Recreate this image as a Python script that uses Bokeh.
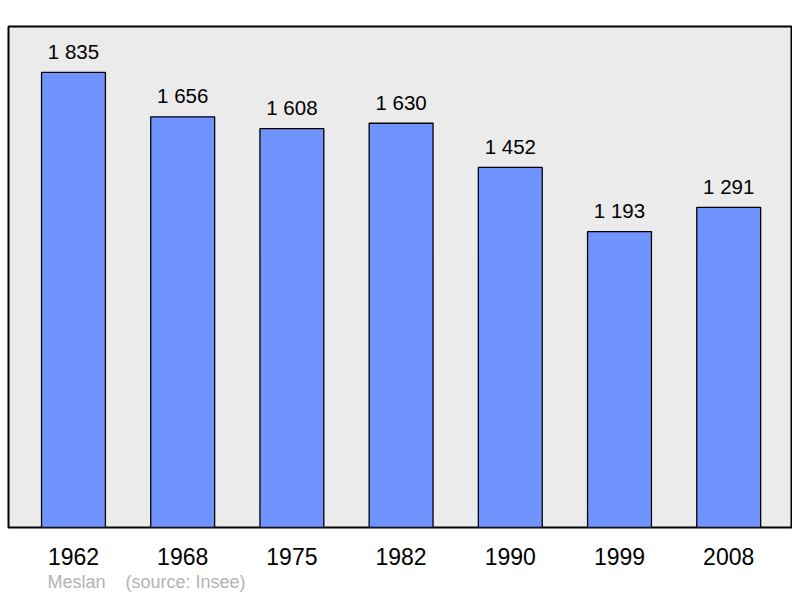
from bokeh.plotting import figure
from bokeh.models import ColumnDataSource, Title, FixedTicker, Range1d
from bokeh.core.properties import value
from bokeh.embed import file_html
from bokeh.resources import INLINE

years = ["1962", "1968", "1975", "1982", "1990", "1999", "2008"]
population = [1835, 1656, 1608, 1630, 1452, 1193, 1291]
value_labels = ["1 835", "1 656", "1 608", "1 630", "1 452", "1 193", "1 291"]
commune = "Meslan"
source_text = "(source: Insee)"

idx = list(range(len(years)))
src = ColumnDataSource(dict(x=idx, top=population, lab=value_labels))

p = figure(width=792, height=594, output_backend="svg", toolbar_location=None,
           x_range=Range1d(-0.595, 6.575), y_range=Range1d(0, 2020),
           min_border_left=8, min_border_right=1, min_border_top=26, min_border_bottom=0)
p.background_fill_color = "#ebebeb"
p.border_fill_color = "white"
p.outline_line_color = "black"
p.outline_line_width = 2
p.xgrid.visible = False
p.ygrid.visible = False
p.yaxis.visible = False

p.vbar(x="x", top="top", width=0.585, bottom=0, source=src,
       fill_color="#7094ff", line_color="black", line_width=1.3)

p.text(x="x", y="top", text="lab", source=src, y_offset=-21,
       text_align="center", text_baseline="alphabetic",
       text_font=value("Liberation Sans"), text_font_size="20.5px", text_color="black")

ax = p.xaxis[0]
ax.ticker = FixedTicker(ticks=idx)
ax.major_label_overrides = {i: y for i, y in zip(idx, years)}
ax.axis_line_color = None
ax.major_tick_line_color = None
ax.minor_tick_line_color = None
ax.major_label_text_font = "Liberation Sans"
ax.major_label_text_font_size = "23px"
ax.major_label_text_color = "black"
ax.major_label_standoff = 14

footer = Title(text=commune + "\u00a0\u00a0\u00a0\u00a0" + source_text,
               align="left", offset=39, standoff=5,
               text_font="Liberation Sans", text_font_size="18px",
               text_font_style="normal", text_color="#b3b3b3")
p.add_layout(footer, "below")

open("out.html", "w").write(file_html(p, INLINE))
